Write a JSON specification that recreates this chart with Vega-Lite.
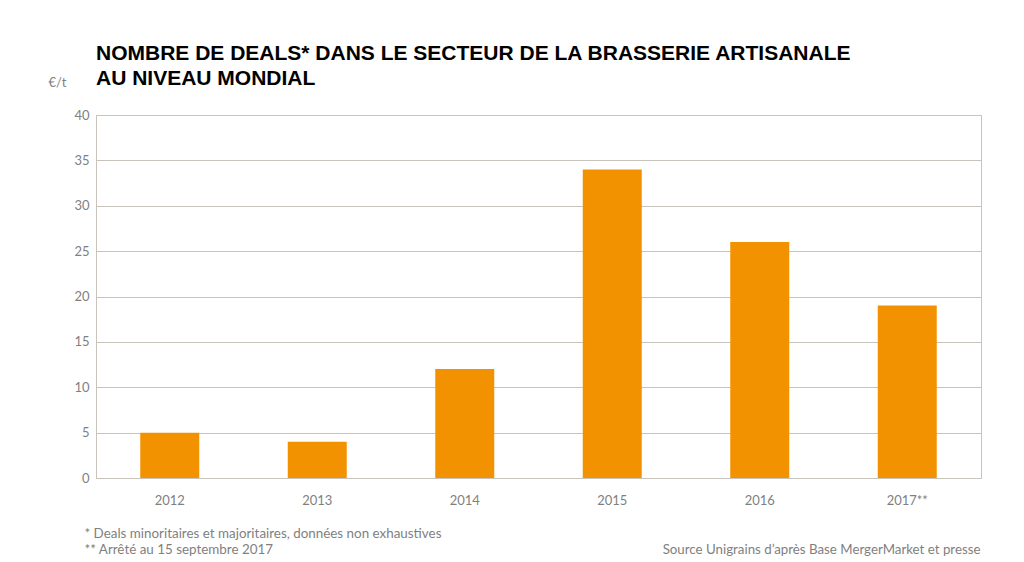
{
  "$schema": "https://vega.github.io/schema/vega-lite/v6.json",
  "width": 885,
  "height": 363,
  "autosize": "none",
  "padding": {"left": 96, "top": 115, "right": 43, "bottom": 84},
  "background": "white",
  "title": {
    "text": ["NOMBRE DE DEALS* DANS LE SECTEUR DE LA BRASSERIE ARTISANALE", "AU NIVEAU MONDIAL"],
    "anchor": "start",
    "frame": "group",
    "font": "Liberation Sans",
    "fontWeight": "bold",
    "fontSize": 21,
    "lineHeight": 25,
    "color": "#000000",
    "offset": -13
  },
  "data": {
    "values": [
      {"annee": "2012", "deals": 5},
      {"annee": "2013", "deals": 4},
      {"annee": "2014", "deals": 12},
      {"annee": "2015", "deals": 34},
      {"annee": "2016", "deals": 26},
      {"annee": "2017**", "deals": 19}
    ]
  },
  "encoding": {
    "x": {
      "field": "annee",
      "type": "nominal",
      "sort": null,
      "scale": {"paddingInner": 0.6, "paddingOuter": 0.3},
      "axis": {
        "labelAngle": 0,
        "labelPadding": 16,
        "ticks": false,
        "grid": false,
        "title": [" * Deals minoritaires et majoritaires, données non exhaustives", "** Arrêté au 15 septembre 2017"],
        "titleX": -12,
        "titleY": 59,
        "titleAlign": "left",
        "titleAnchor": "start",
        "titleBaseline": "alphabetic",
        "titleLineHeight": 16,
        "titleFont": "Lato",
        "titleFontSize": 13.4,
        "titleFontWeight": "normal",
        "titleColor": "#7f7f7f"
      }
    },
    "y": {
      "field": "deals",
      "type": "quantitative",
      "scale": {"domain": [0, 40]},
      "axis": {
        "values": [0, 5, 10, 15, 20, 25, 30, 35, 40],
        "ticks": false,
        "labelPadding": 7,
        "title": "€/t",
        "titleAngle": 0,
        "titleX": -48,
        "titleY": -29,
        "titleAlign": "left",
        "titleBaseline": "alphabetic",
        "titleFont": "Lato",
        "titleFontSize": 13,
        "titleFontWeight": "normal",
        "titleColor": "#7f7f7f"
      }
    }
  },
  "layer": [
    {
      "mark": {"type": "bar", "color": "#F39200"}
    },
    {
      "mark": {"type": "bar", "opacity": 0},
      "encoding": {
        "x": {
          "field": "annee",
          "type": "nominal",
          "sort": null,
          "axis": {
            "orient": "top",
            "labels": false,
            "ticks": false,
            "domain": false,
            "grid": false,
            "title": "Source Unigrains d’après Base MergerMarket et presse",
            "titleX": 884,
            "titleY": 438,
            "titleAlign": "right",
            "titleAnchor": "end",
            "titleBaseline": "alphabetic",
            "titleFont": "Lato",
            "titleFontSize": 13.3,
            "titleFontWeight": "normal",
            "titleColor": "#7f7f7f"
          }
        }
      }
    }
  ],
  "resolve": {"axis": {"x": "independent"}},
  "config": {
    "view": {"stroke": "#c8c4bd", "strokeWidth": 1},
    "axis": {
      "labelFont": "Lato",
      "labelFontSize": 13,
      "labelColor": "#7f7f7f",
      "domainColor": "#c8c4bd",
      "gridColor": "#c8c4bd",
      "gridWidth": 1,
      "domainWidth": 1
    }
  }
}
